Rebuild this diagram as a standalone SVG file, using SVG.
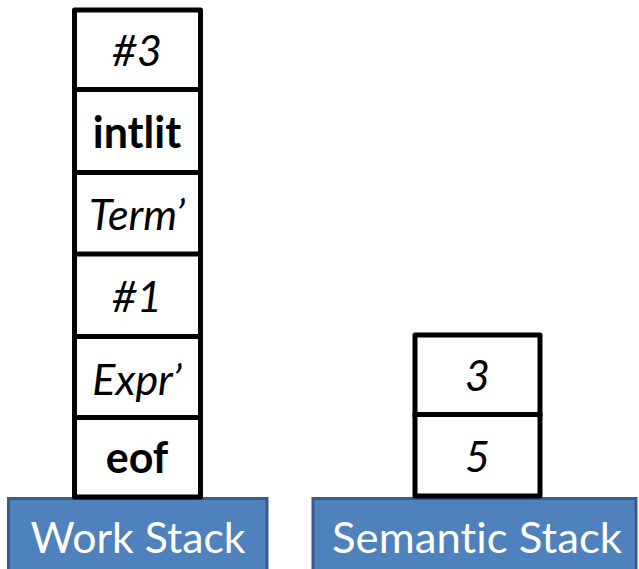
<svg xmlns="http://www.w3.org/2000/svg" width="639" height="569" viewBox="0 0 639 569">
  <style>
    .cell { fill: #ffffff; stroke: #000000; stroke-width: 5; stroke-linejoin: round; }
    .bar { fill: #4F81BD; stroke: #385D8A; stroke-width: 3; }
    .t { font-family: Lato, "Liberation Sans", sans-serif; font-size: 43px; fill: #000000; text-anchor: middle; font-variant-ligatures: none; }
    .it { font-style: italic; }
    .bd { font-weight: bold; }
    .lbl { font-family: Lato, "Liberation Sans", sans-serif; font-size: 43px; fill: #ffffff; text-anchor: middle; font-variant-ligatures: none; }
  </style>
  <rect width="639" height="569" fill="#ffffff"/>

  <!-- base bars -->
  <g id="work-stack-label">
    <rect class="bar" x="8.5" y="498.5" width="258.5" height="80"/>
    <text class="lbl" x="138" y="553" textLength="215" lengthAdjust="spacingAndGlyphs">Work Stack</text>
  </g>
  <g id="semantic-stack-label">
    <rect class="bar" x="313" y="498.5" width="323" height="80"/>
    <text class="lbl" x="477" y="553" textLength="290" lengthAdjust="spacingAndGlyphs">Semantic Stack</text>
  </g>

  <!-- work stack cells, top to bottom; each cell overlaps the one above slightly so the shared edge reads heavier -->
  <g id="work-3">
    <rect class="cell" x="74.5" y="10" width="126" height="81"/>
    <text class="t it" x="137" y="66">#3</text>
  </g>
  <g id="work-intlit">
    <rect class="cell" x="74.5" y="89.5" width="126" height="84.5"/>
    <text class="t bd" x="137" y="148">intlit</text>
  </g>
  <g id="work-term">
    <rect class="cell" x="74.5" y="172.5" width="126" height="83"/>
    <text class="t it" x="137" y="230">Term’</text>
  </g>
  <g id="work-1">
    <rect class="cell" x="74.5" y="254" width="126" height="84"/>
    <text class="t it" x="137" y="312">#1</text>
  </g>
  <g id="work-expr">
    <rect class="cell" x="74.5" y="336.5" width="126" height="82.5"/>
    <text class="t it" x="137" y="394.5">Expr’</text>
  </g>
  <g id="work-eof">
    <rect class="cell" x="74.5" y="417.5" width="126" height="79.5"/>
    <text class="t bd" x="137" y="473">eof</text>
  </g>

  <!-- semantic stack cells -->
  <g id="sem-3">
    <rect class="cell" x="415" y="335" width="125" height="81"/>
    <text class="t it" x="477.5" y="391">3</text>
  </g>
  <g id="sem-5">
    <rect class="cell" x="415" y="414.5" width="125" height="81.5"/>
    <text class="t it" x="477.5" y="471.5">5</text>
  </g>

  <g id="connectors"/>
</svg>
